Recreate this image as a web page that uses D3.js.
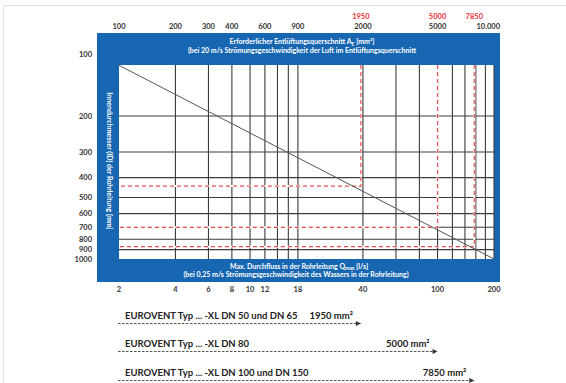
<!DOCTYPE html>
<html>
<head>
<meta charset="utf-8">
<script src="https://cdn.jsdelivr.net/npm/d3@7"></script>
<style>
  body { margin: 0; background: #fff; }
  text { font-family: Lato, "Open Sans", sans-serif; }
</style>
</head>
<body>
<svg id="my_viz"></svg>
<script>
// Chart values
var areaTicks = [100, 200, 300, 400, 600, 900, 2000, 5000, 10000];   // top axis mm²
var areaTickLabels = ["100", "200", "300", "400", "600", "900", "2000", "5000", "10.000"];
var flowTicks = [2, 4, 6, 8, 10, 12, 18, 40, 100, 200];              // bottom axis l/s
var diaTicks = [100, 200, 300, 400, 500, 600, 700, 800, 900, 1000];  // left axis mm
var areaGrid = [200, 300, 400, 500, 600, 700, 800, 900, 2000, 3000, 4000, 5000, 6000, 7000, 8000, 9000, 10000];
var diaGrid = [200, 300, 400, 500, 600, 700, 800, 900];
var diagonal = [[100, 113], [10000, 1000]];
// red guides: area mm² and the diameter they meet
var guideAreas = [1950, 5000, 7850];
var guideDias = [440, 700, 870];
var typeNames = ["EUROVENT Typ ... -XL DN 50 und DN 65", "EUROVENT Typ ... -XL DN 80", "EUROVENT Typ ... -XL DN 100 und DN 150"];

var svg_width = 566, svg_height = 383;
var blue = "#1766b1";
var plot = {left: 119, right: 494, top: 65, bottom: 259};

var svg = d3.select("#my_viz")
  .attr("width", svg_width)
  .attr("height", svg_height);

// light page frame
svg.append("rect")
  .attr("x", 3.5).attr("y", 5.5)
  .attr("width", 700).attr("height", 500)
  .attr("fill", "none").attr("stroke", "#e2e2e2");

// scales
var x = d3.scaleLog().domain([100, 10000]).range([plot.left, plot.right]);
var xFlow = d3.scaleLog().domain([2, 200]).range([plot.left, plot.right]);
var y = d3.scaleLog().domain([100, 1000]).range([54.5, plot.bottom]);

// blue frame + white plot area
svg.append("rect")
  .attr("x", 97).attr("y", 33)
  .attr("width", 403).attr("height", 249)
  .attr("fill", blue);
svg.append("rect")
  .attr("x", plot.left).attr("y", plot.top)
  .attr("width", plot.right - plot.left).attr("height", plot.bottom - plot.top)
  .attr("fill", "#fff");

var grid = svg.append("g").attr("id", "grid");

grid.selectAll(".vline")
  .data(areaGrid)
  .enter().append("line")
  .attr("x1", d => x(d)).attr("x2", d => x(d))
  .attr("y1", plot.top).attr("y2", plot.bottom)
  .attr("stroke", "#3c3c3c").attr("stroke-width", 1.1);

grid.selectAll(".hline")
  .data(diaGrid)
  .enter().append("line")
  .attr("x1", plot.left).attr("x2", plot.right)
  .attr("y1", d => y(d)).attr("y2", d => y(d))
  .attr("stroke", "#3c3c3c").attr("stroke-width", 1.1);

// red guide lines (white under-stroke hides the grid where they overlap)
var guides = guideAreas.map((a, i) => ({a: a, d: guideDias[i]}));
var guidePath = g => "M" + x(g.a) + "," + plot.top + "V" + y(g.d) + "H" + plot.left;

grid.selectAll(".guideBg")
  .data(guides)
  .enter().append("path")
  .attr("d", guidePath)
  .attr("fill", "none").attr("stroke", "#fff").attr("stroke-width", 2);

grid.selectAll(".guide")
  .data(guides)
  .enter().append("path")
  .attr("d", guidePath)
  .attr("fill", "none").attr("stroke", "#ee4b55")
  .attr("stroke-width", 1.2).attr("stroke-dasharray", "4,3");

// diagonal
svg.append("line")
  .attr("x1", x(diagonal[0][0])).attr("y1", y(diagonal[0][1]))
  .attr("x2", x(diagonal[1][0])).attr("y2", y(diagonal[1][1]))
  .attr("stroke", "#555").attr("stroke-width", 1);

// Top axis labels
svg.append("g").selectAll("text")
  .data(areaTicks)
  .enter().append("text")
  .text((d, i) => areaTickLabels[i])
  .attr("x", d => x(d))
  .attr("y", 29)
  .attr("text-anchor", d => d === 10000 ? "end" : "middle")
  .attr("dx", d => d === 10000 ? 6 : 0)
  .style("font-size", "7.5px").style("font-weight", "bold").style("fill", "#333");

svg.append("g").selectAll("text")
  .data(guideAreas)
  .enter().append("text")
  .text(d => d)
  .attr("x", d => x(d))
  .attr("y", 19)
  .attr("text-anchor", "middle")
  .style("font-size", "7.5px").style("font-weight", "bold").style("fill", "#e8323c");

// Bottom axis labels
svg.append("g").selectAll("text")
  .data(flowTicks)
  .enter().append("text")
  .text(d => d)
  .attr("x", d => xFlow(d))
  .attr("y", 292)
  .attr("text-anchor", "middle")
  .style("font-size", "7.5px").style("font-weight", "bold").style("fill", "#333");

// Left axis labels
svg.append("g").selectAll("text")
  .data(diaTicks)
  .enter().append("text")
  .text(d => d)
  .attr("x", 92)
  .attr("y", d => y(d) + 2.7)
  .attr("text-anchor", "end")
  .style("font-size", "7.5px").style("font-weight", "bold").style("fill", "#333");

// Band titles
var head = svg.append("g").style("font-size", "7px").style("font-weight", "bold").style("fill", "#fff");
var t1 = head.append("text").attr("x", 302).attr("y", 44).attr("text-anchor", "middle");
t1.append("tspan").text("Erforderlicher Entlüftungsquerschnitt A");
t1.append("tspan").text("E").attr("dy", 1.5).style("font-size", "5px");
t1.append("tspan").text(" [mm²]").attr("dy", -1.5);
head.append("text").attr("x", 302).attr("y", 52.5).attr("text-anchor", "middle")
  .text("(bei 20 m/s Strömungsgeschwindigkeit der Luft im Entlüftungsquerschnitt");

var t2 = head.append("text").attr("x", 299).attr("y", 268.5).attr("text-anchor", "middle");
t2.append("tspan").text("Max. Durchfluss in der Rohrleitung Q");
t2.append("tspan").text("max").attr("dy", 1.5).style("font-size", "5px");
t2.append("tspan").text(" [l/s]").attr("dy", -1.5);
head.append("text").attr("x", 296).attr("y", 277).attr("text-anchor", "middle")
  .text("(bei 0,25 m/s Strömungsgeschwindigkeit des Wassers in der Rohrleitung)");

head.append("text")
  .attr("transform", "translate(107,161) rotate(90)")
  .attr("text-anchor", "middle")
  .text("Innendurchmesser (ID) der Rohrleitung [mm]");

// Legend rows with dashed arrows
var rowY = [319, 347, 376];
var defs = svg.append("defs");
defs.append("marker")
  .attr("id", "arrow")
  .attr("viewBox", "0 0 10 10")
  .attr("refX", 10).attr("refY", 5)
  .attr("markerWidth", 9).attr("markerHeight", 5)
  .attr("markerUnits", "userSpaceOnUse")
  .attr("orient", "auto")
  .append("path").attr("d", "M0,0L10,5L0,10Z").attr("fill", "#333");

var rows = svg.append("g").attr("id", "rows");
rows.selectAll(".name")
  .data(typeNames)
  .enter().append("text")
  .text(d => d)
  .attr("x", 125)
  .attr("y", (d, i) => rowY[i])
  .style("font-size", "9.5px").style("font-weight", "bold").style("fill", "#222");

rows.selectAll(".val")
  .data(guideAreas)
  .enter().append("text")
  .text(d => d + " mm²")
  .attr("x", d => x(d) - 8)
  .attr("y", (d, i) => rowY[i])
  .attr("text-anchor", "end")
  .style("font-size", "9.5px").style("font-weight", "bold").style("fill", "#222");

rows.selectAll("line")
  .data(guideAreas)
  .enter().append("line")
  .attr("x1", 118).attr("x2", d => x(d))
  .attr("y1", (d, i) => rowY[i] + 4.5).attr("y2", (d, i) => rowY[i] + 4.5)
  .attr("stroke", "#555").attr("stroke-width", 1)
  .attr("stroke-dasharray", "2.5,1.5")
  .attr("marker-end", "url(#arrow)");
</script>
</body>
</html>
